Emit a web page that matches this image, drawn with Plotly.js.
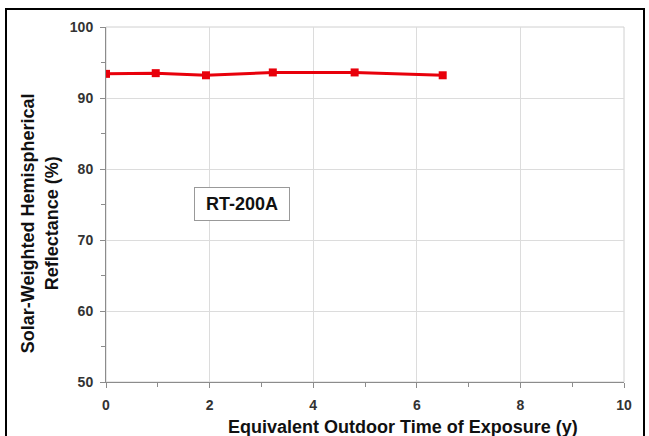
<!DOCTYPE html>
<html>
<head>
<meta charset="utf-8">
<script src="https://cdn.plot.ly/plotly-3.0.1.min.js"></script>
<style>
html,body{margin:0;padding:0;background:#fff;}
#wrap{position:relative;width:649px;height:436px;overflow:hidden;}
#chart{position:absolute;left:0;top:0;width:649px;height:436px;}
#frame{position:absolute;left:5px;top:8px;width:636px;height:440px;border:2px solid #000;pointer-events:none;}
</style>
</head>
<body>
<div id="wrap"><div id="chart"></div><div id="frame"></div></div>
<script>
var exposureYears = [0, 0.96, 1.93, 3.22, 4.80, 6.50];
var reflectance = [93.4, 93.5, 93.2, 93.6, 93.6, 93.2];
var xTicks = [0, 2, 4, 6, 8, 10];
var yTicks = [50, 60, 70, 80, 90, 100];
var sampleLabel = 'RT-200A';

var trace = {
  x: exposureYears, y: reflectance, type: 'scatter', mode: 'lines+markers',
  line: {color: '#e8000b', width: 3},
  marker: {symbol: 'square', size: 8, color: '#e8000b'},
  showlegend: false, hoverinfo: 'skip'
};
var tickFont = {family: 'Liberation Sans, Arial, sans-serif', size: 14, color: '#333', weight: 'bold'};
var titleFont = {family: 'Liberation Sans, Arial, sans-serif', size: 18, color: '#111', weight: 'bold'};
var layout = {
  width: 649, height: 436,
  margin: {l: 106, r: 25, t: 27, b: 54},
  paper_bgcolor: '#fff', plot_bgcolor: '#fff',
  xaxis: {
    range: [0, 10], tickvals: xTicks, ticktext: xTicks.map(String),
    showgrid: true, gridcolor: '#dcdcdc', gridwidth: 1,
    showline: true, linecolor: '#8c8c8c', linewidth: 1,
    ticks: 'outside', ticklen: 5, tickcolor: '#8c8c8c', ticklabelstandoff: 5,
    minor: {dtick: 1, ticks: 'outside', ticklen: 4, tickcolor: '#8c8c8c', showgrid: false},
    zeroline: false, tickfont: tickFont, fixedrange: true
  },
  yaxis: {
    range: [50, 100], tickvals: yTicks, ticktext: yTicks.map(String),
    showgrid: true, gridcolor: '#dcdcdc', gridwidth: 1,
    showline: true, linecolor: '#8c8c8c', linewidth: 1,
    ticks: 'outside', ticklen: 5, tickcolor: '#8c8c8c', ticklabelstandoff: 4,
    minor: {dtick: 5, ticks: 'outside', ticklen: 4, tickcolor: '#8c8c8c', showgrid: false},
    zeroline: false, tickfont: tickFont, fixedrange: true
  },
  shapes: [
    {type: 'rect', xref: 'paper', yref: 'paper', x0: 0, x1: 1, y0: 0, y1: 1,
     line: {color: '#d0d0d0', width: 1}, layer: 'below'}
  ],
  annotations: [
    {text: 'Equivalent Outdoor Time of Exposure (y)', xref: 'paper', yref: 'paper',
     x: 0.574, y: -0.127, xanchor: 'center', yanchor: 'middle', showarrow: false,
     font: titleFont},
    {text: 'Solar-Weighted Hemispherical<br>Reflectance (%)', xref: 'paper', yref: 'paper',
     x: -0.127, y: 0.448, xanchor: 'center', yanchor: 'middle', showarrow: false, textangle: -90,
     font: titleFont},
    {text: sampleLabel, xref: 'paper', yref: 'paper', x: 0.263, y: 0.502,
     xanchor: 'center', yanchor: 'middle', showarrow: false,
     width: 82, height: 20,
     bordercolor: '#999', borderwidth: 1, borderpad: 6, bgcolor: '#fff',
     font: {family: 'Liberation Sans, Arial, sans-serif', size: 18, color: '#111', weight: 'bold'}}
  ]
};
Plotly.newPlot('chart', [trace], layout, {staticPlot: true, displayModeBar: false});
</script>
</body>
</html>
